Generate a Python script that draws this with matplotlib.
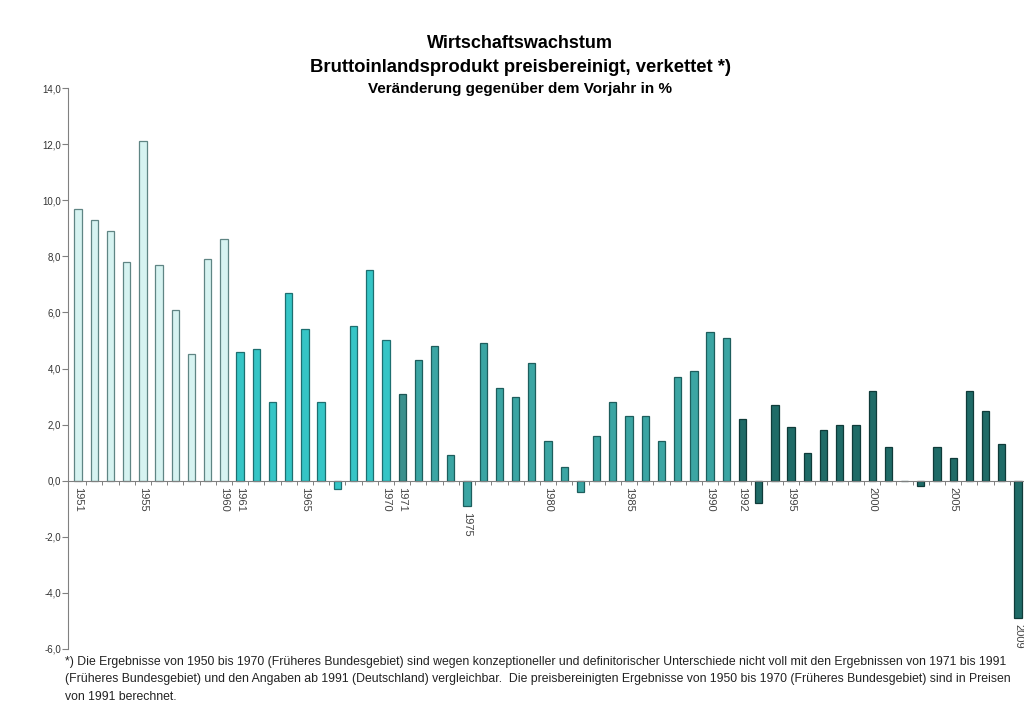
import numpy as np
import matplotlib.pyplot as plt

plt.rcParams['font.family'] = ['Liberation Sans', 'DejaVu Sans']

years = list(range(1951, 2010))
growth = [9.7, 9.3, 8.9, 7.8, 12.1, 7.7, 6.1, 4.5, 7.9, 8.6,
          4.6, 4.7, 2.8, 6.7, 5.4, 2.8, -0.3, 5.5, 7.5, 5.0,
          3.1, 4.3, 4.8, 0.9, -0.9, 4.9, 3.3, 3.0, 4.2, 1.4,
          0.5, -0.4, 1.6, 2.8, 2.3, 2.3, 1.4, 3.7, 3.9, 5.3,
          5.1, 2.2, -0.8, 2.7, 1.9, 1.0, 1.8, 2.0, 2.0, 3.2,
          1.2, 0.0, -0.2, 1.2, 0.8, 3.2, 2.5, 1.3, -4.9]
label_years = [1951, 1955, 1960, 1961, 1965, 1970, 1971, 1975, 1980,
               1985, 1990, 1992, 1995, 2000, 2005, 2009]

def bar_style(y):
    if y <= 1960:
        return '#d6f3f1', '#5f8584'
    if y <= 1970:
        return '#35c5c6', '#1d6f70'
    if y == 1971:
        return '#3b908d', '#1d5655'
    if y <= 1991:
        return '#3ba5a3', '#1d5e5d'
    return '#1f6b67', '#0f3b39'

fig = plt.figure(figsize=(10.24, 7.13), dpi=100)
ax = fig.add_axes([68 / 1024, 1 - 649 / 713, 956 / 1024, (649 - 88) / 713])

for y, v in zip(years, growth):
    fc, ec = bar_style(y)
    ax.bar(y, v, width=0.45, color=fc, edgecolor=ec, linewidth=0.9)

ax.set_xlim(1950.38, 2009.37)
ax.set_ylim(-6, 14)
ax.set_yticks(np.arange(-6, 15, 2))
ax.set_yticklabels([f'{t:.1f}'.replace('.', ',') for t in np.arange(-6, 15, 2)],
                   fontsize=7, color='#333333')
ax.tick_params(axis='y', length=4, width=0.8, color='#808080', pad=1)

# category axis sits on the zero line, with short ticks between the bars
ax.spines['bottom'].set_position(('data', 0))
ax.spines['bottom'].set_color('#808080')
ax.spines['bottom'].set_zorder(3)
ax.set_xticks([])
ax.set_xticks(np.arange(1951.5, 2009, 1), minor=True)
ax.tick_params(axis='x', which='minor', length=3, width=0.7, color='#808080')
ax.tick_params(axis='x', which='major', length=0, labelbottom=False)

for s in ['top', 'right']:
    ax.spines[s].set_visible(False)
ax.spines['left'].set_color('#808080')

for y in label_years:
    v = growth[years.index(y)]
    ax.text(y, min(v, 0) - 0.22, str(y), rotation=-90, ha='center', va='top',
            fontsize=8, color='#444444')

fig.text(0.508, 1 - 44 / 713, 'Wirtschaftswachstum', ha='center', va='center',
         fontsize=13, fontweight='bold')
fig.text(0.508, 1 - 68 / 713, 'Bruttoinlandsprodukt preisbereinigt, verkettet *)',
         ha='center', va='center', fontsize=13.3, fontweight='bold')
fig.text(0.508, 1 - 89 / 713, 'Veränderung gegenüber dem Vorjahr in %',
         ha='center', va='center', fontsize=11, fontweight='bold')

note = ('*) Die Ergebnisse von 1950 bis 1970 (Früheres Bundesgebiet) sind wegen konzeptioneller '
        'und definitorischer Unterschiede nicht voll mit den Ergebnissen von 1971 bis 1991\n'
        '(Früheres Bundesgebiet) und den Angaben ab 1991 (Deutschland) vergleichbar.  Die '
        'preisbereinigten Ergebnisse von 1950 bis 1970 (Früheres Bundesgebiet) sind in Preisen\n'
        'von 1991 berechnet.')
fig.text(65 / 1024, 1 - 656 / 713, note, ha='left', va='top', fontsize=8.8,
         linespacing=1.6, color='#222222')

fig.savefig('out.png', dpi=100)
